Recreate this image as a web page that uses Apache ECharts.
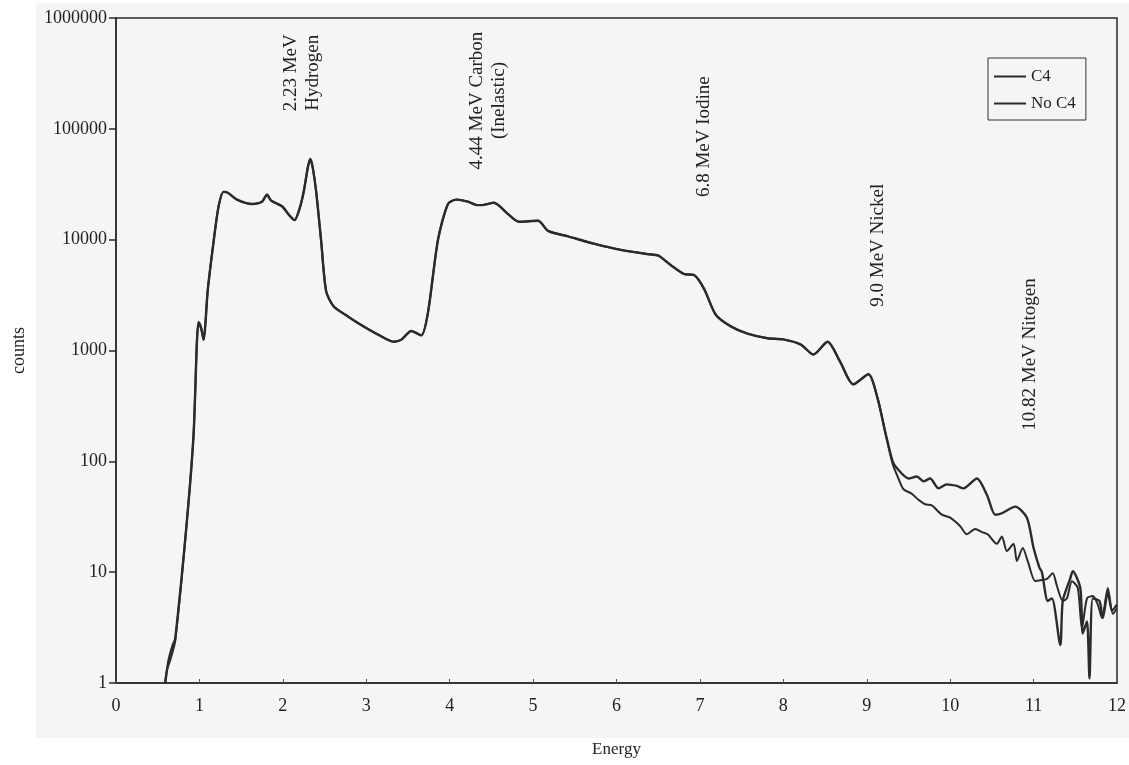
<!DOCTYPE html>
<html>
<head>
<meta charset="utf-8">
<script src="https://cdn.jsdelivr.net/npm/echarts@6/dist/echarts.min.js"></script>
<style>
html,body{margin:0;padding:0;background:#fff;}
#chart{width:1129px;height:765px;}
</style>
</head>
<body>
<div id="chart"></div>
<script>
// ---- data ----
const xTicks = [0,1,2,3,4,5,6,7,8,9,10,11,12];
const yTicks = [1,10,100,1000,10000,100000,1000000];

const commonEnergy = [0.85,0.93,0.97,0.99,1.02,1.05,1.10,1.17,1.23,1.29,1.34,1.45,1.63,1.75,1.81,1.86,1.99,2.08,2.14,2.20,2.25,2.30,2.33,2.36,2.40,2.46,2.52,2.61,2.75,2.91,3.15,3.33,3.42,3.54,3.66,3.74,3.86,3.98,4.08,4.22,4.33,4.38,4.53,4.70,4.83,5.06,5.18,5.42,5.73,6.05,6.38,6.50,6.65,6.81,6.93,7.05,7.19,7.37,7.57,7.81,8.00,8.21,8.36,8.53,8.68,8.84,9.02,9.13,9.22];
const commonCounts = [29,175,1200,1800,1600,1250,3500,9600,20000,27000,26500,23000,21000,22000,25500,22500,20000,16500,15000,19000,27000,45000,53500,44000,27000,9600,3400,2500,2100,1750,1380,1200,1250,1500,1370,2200,10000,21000,23000,22000,20500,20500,21500,17000,14500,14800,12000,10700,9200,8100,7400,7200,5900,4900,4800,3600,2100,1650,1420,1290,1260,1130,920,1200,795,495,610,370,186];

const c4StartEnergy = [0.59,0.63,0.68,0.71];
const c4StartCounts = [1,1.6,2.2,2.5];
const c4TailEnergy = [9.31,9.36,9.50,9.60,9.68,9.76,9.86,9.96,10.08,10.16,10.32,10.44,10.54,10.62,10.78,10.92,11.00,11.07,11.10,11.17,11.22,11.32,11.35,11.44,11.47,11.56,11.59,11.64,11.67,11.71,11.79,11.83,11.89,11.94,12.00];
const c4TailCounts = [100,87,70,73,66,70,57,62,60,57,70,50,33,34,39,31,16.5,11,10,5.5,5.8,2.2,5.5,8.8,10.2,7.2,2.8,3.6,1.1,5.8,5.5,3.85,6.7,4.5,5.1];

const noC4StartEnergy = [0.59,0.61,0.66,0.71];
const noC4StartCounts = [1,1.3,1.7,2.4];
const noC4TailEnergy = [9.31,9.38,9.44,9.54,9.62,9.70,9.78,9.90,10.00,10.12,10.20,10.30,10.38,10.45,10.56,10.62,10.68,10.76,10.80,10.87,10.93,11.02,11.10,11.16,11.23,11.28,11.35,11.40,11.46,11.53,11.58,11.64,11.71,11.77,11.82,11.89,11.95,12.00];
const noC4TailCounts = [95,70,56,51,45,41,40,33,31,26,22,24.5,23,22,18,21,15.5,18,12.6,16.5,12.6,8.3,8.5,8.7,9.8,7.5,5.5,5.8,8.3,7.2,3.1,5.8,6.1,5.1,3.85,7.2,4.2,4.7];

const annoLabels = ['2.23 MeV\nHydrogen','4.44 MeV Carbon\n(Inelastic)','6.8 MeV Iodine','9.0 MeV Nickel','10.82 MeV Nitogen'];
const annoEnergy = [2.23,4.46,7.05,9.13,10.96];
const annoCounts = [320000,180000,85000,8900,920];

// ---- build ----
function pairs(e, c){ return e.map((v,i)=>[v,c[i]]); }
const c4Data = pairs(c4StartEnergy,c4StartCounts).concat(pairs(commonEnergy,commonCounts), pairs(c4TailEnergy,c4TailCounts));
const noC4Data = pairs(noC4StartEnergy,noC4StartCounts).concat(pairs(commonEnergy,commonCounts), pairs(noC4TailEnergy,noC4TailCounts));

const FONT = '"Liberation Serif", "DejaVu Serif", serif';
const chart = echarts.init(document.getElementById('chart'));
const option = {
  backgroundColor: '#ffffff',
  animation: false,
  grid: { left: 116, right: 10, top: 18, bottom: 82, show: true, borderColor: '#2a2a2a', borderWidth: 1.5, backgroundColor: 'transparent' },
  legend: {
    left: 988, top: 58, orient: 'vertical',
    data: ['C4','No C4'],
    icon: 'rect', itemWidth: 32, itemHeight: 2, itemGap: 10,
    borderColor: '#333', borderWidth: 1, padding: [10, 10, 8, 6],
    textStyle: { fontFamily: FONT, fontSize: 17, color: '#222' }
  },
  xAxis: {
    type: 'value', min: 0, max: 12, interval: 1,
    name: 'Energy', nameLocation: 'middle', nameGap: 58,
    nameTextStyle: { fontFamily: FONT, fontSize: 17, color: '#222' },
    axisLine: { show: true, lineStyle: { color: '#2a2a2a', width: 1.5 } },
    axisTick: { show: true, inside: true, length: 4, lineStyle: { color: '#555' } },
    axisLabel: { fontFamily: FONT, fontSize: 18, color: '#222', margin: 14 },
    splitLine: { show: false }
  },
  yAxis: {
    type: 'log', logBase: 10, min: 1, max: 1000000,
    name: 'counts', nameLocation: 'middle', nameGap: 88, nameRotate: 90,
    nameTextStyle: { fontFamily: FONT, fontSize: 18, color: '#222' },
    axisLine: { show: true, lineStyle: { color: '#2a2a2a', width: 1.5 } },
    axisTick: { show: true, length: 7, lineStyle: { color: '#2a2a2a', width: 1.5 } },
    axisLabel: { fontFamily: FONT, fontSize: 18, color: '#222', margin: 9, formatter: v => String(v) },
    splitLine: { show: false }
  },
  series: [
    { name: 'C4', type: 'line', data: c4Data, showSymbol: false, symbol: 'none', smooth: 0.25,
      lineStyle: { color: '#2b2b2b', width: 2.4 }, itemStyle: { color: '#2b2b2b' }, z: 3 },
    { name: 'No C4', type: 'line', data: noC4Data, showSymbol: false, symbol: 'none', smooth: 0.25,
      lineStyle: { color: '#2b2b2b', width: 2.0 }, itemStyle: { color: '#2b2b2b' }, z: 3 }
  ]
};
chart.setOption(option);

// annotations placed through the axes' scales
const graphics = [
  { type: 'rect', z: -10, silent: true, shape: { x: 36, y: 3, width: 1093, height: 735 }, style: { fill: '#f5f5f5' } }
];
annoLabels.forEach((t, i) => {
  const p = chart.convertToPixel({ gridIndex: 0 }, [annoEnergy[i], annoCounts[i]]);
  graphics.push({
    type: 'text', x: p[0], y: p[1], rotation: Math.PI / 2, z: 5,
    style: { text: t, font: '19px ' + FONT, fill: '#222', align: 'center', verticalAlign: 'middle', lineHeight: 22 }
  });
});
chart.setOption({ graphic: graphics });
</script>
</body>
</html>
